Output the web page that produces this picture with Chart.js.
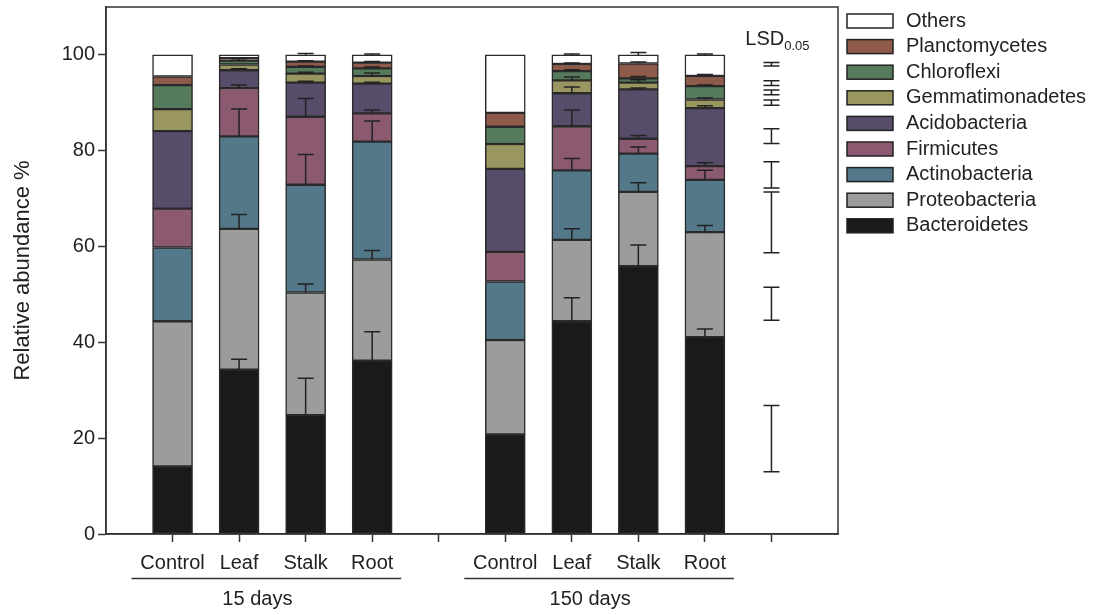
<!DOCTYPE html>
<html>
<head>
<meta charset="utf-8">
<script src="https://cdn.jsdelivr.net/npm/chart.js@4/dist/chart.umd.min.js"></script>
<style>
  html, body { margin: 0; padding: 0; background: #fff; }
  #wrap { width: 1098px; height: 615px; }
</style>
</head>
<body>
<div id="wrap"><canvas id="chart"></canvas></div>
<script>
// x slots: 0 and 11 are the frame edges, 5 is the gap, 10 holds the LSD bars
const labels = ['', 'Control', 'Leaf', 'Stalk', 'Root', '', 'Control', 'Leaf', 'Stalk', 'Root', '', ''];
const slots = [1, 2, 3, 4, 6, 7, 8, 9];
const lsdSlot = 10;
const groups = ['15 days', '150 days'];

// relative abundance (%) per treatment, bottom to top
const bacteroidetes = [14.1, 34.3, 24.8, 36.2, 20.8, 44.4, 55.9, 41.1];
const proteobacteria = [30.3, 29.4, 25.6, 21.1, 19.7, 17.0, 15.5, 21.9];
const actinobacteria = [15.4, 19.3, 22.5, 24.6, 12.2, 14.5, 8.0, 10.9];
const firmicutes = [8.1, 10.1, 14.2, 5.9, 6.2, 9.2, 3.1, 2.9];
const acidobacteria = [16.2, 3.7, 7.1, 6.2, 17.3, 6.9, 10.3, 12.1];
const gemmatimonadetes = [4.6, 1.2, 1.9, 1.6, 5.2, 2.7, 1.4, 1.8];
const chloroflexi = [5.0, 0.8, 1.4, 1.6, 3.6, 1.9, 0.9, 2.8];
const planctomycetes = [1.8, 0.5, 1.1, 1.2, 2.9, 1.5, 3.1, 2.1];
const others = [4.5, 0.7, 1.4, 1.6, 12.1, 1.9, 1.8, 4.4];

// one-sided error bars (drawn upward from each segment top)
const errBacteroidetes = [0, 2.2, 7.7, 6.0, 0, 4.9, 4.4, 1.7];
const errProteobacteria = [0, 3.0, 1.8, 1.9, 0, 2.3, 1.9, 1.4];
const errActinobacteria = [0, 5.7, 6.3, 4.3, 0, 2.5, 1.4, 2.0];
const errFirmicutes = [0, 0.6, 3.8, 0.7, 0, 3.4, 0.7, 0.7];
const errAcidobacteria = [0, 0.3, 0.3, 0.3, 0, 1.3, 0.3, 0.5];
const errGemmatimonadetes = [0, 0, 0.3, 0.6, 0, 0.7, 0.6, 0.3];
const errChloroflexi = [0, 0.4, 0.2, 0.3, 0, 0.3, 0.4, 0.2];
const errPlanctomycetes = [0, 0, 0.2, 0.2, 0, 0.2, 0.3, 0.3];
const errOthers = [0, 0, 0.3, 0.2, 0, 0.2, 0.5, 0.2];

// LSD 0.05 ranges
const lsdLow = [13.0, 44.6, 58.7, 72.2, 81.5, 89.5, 91.7, 93.6, 97.7];
const lsdHigh = [26.8, 51.5, 71.4, 77.7, 84.6, 90.6, 92.7, 94.6, 98.4];

const yTicks = [0, 20, 40, 60, 80, 100];

const FONT = '"Liberation Sans", Arial, sans-serif';
const INK = '#222';

const series = [
  { label: 'Bacteroidetes', values: bacteroidetes, err: errBacteroidetes, color: '#1a1a1a' },
  { label: 'Proteobacteria', values: proteobacteria, err: errProteobacteria, color: '#9b9c9c' },
  { label: 'Actinobacteria', values: actinobacteria, err: errActinobacteria, color: '#52788a' },
  { label: 'Firmicutes', values: firmicutes, err: errFirmicutes, color: '#8c5a70' },
  { label: 'Acidobacteria', values: acidobacteria, err: errAcidobacteria, color: '#584c6b' },
  { label: 'Gemmatimonadetes', values: gemmatimonadetes, err: errGemmatimonadetes, color: '#9a9660' },
  { label: 'Chloroflexi', values: chloroflexi, err: errChloroflexi, color: '#567a5c' },
  { label: 'Planctomycetes', values: planctomycetes, err: errPlanctomycetes, color: '#8e5a4a' },
  { label: 'Others', values: others, err: errOthers, color: '#ffffff' }
];

const toSlots = (vals) => {
  const out = labels.map(() => null);
  slots.forEach((s, i) => { out[s] = vals[i]; });
  return out;
};

const extras = {
  id: 'extras',
  afterDatasetsDraw(chart) {
    const { ctx, chartArea: a, scales: { x, y } } = chart;
    ctx.save();

    // error bars
    ctx.strokeStyle = INK;
    ctx.lineWidth = 1.5;
    slots.forEach((s, k) => {
      let cum = 0;
      const px = x.getPixelForValue(s);
      series.forEach((d) => {
        cum += d.values[k];
        const e = d.err[k];
        if (!e) return;
        const yTop = y.getPixelForValue(cum + e);
        ctx.beginPath();
        ctx.moveTo(px, y.getPixelForValue(cum));
        ctx.lineTo(px, yTop);
        ctx.moveTo(px - 8, yTop);
        ctx.lineTo(px + 8, yTop);
        ctx.stroke();
      });
    });

    // LSD bars
    const lx = x.getPixelForValue(lsdSlot);
    lsdLow.forEach((lo, i) => {
      const y1 = y.getPixelForValue(lo), y2 = y.getPixelForValue(lsdHigh[i]);
      ctx.beginPath();
      ctx.moveTo(lx, y1); ctx.lineTo(lx, y2);
      ctx.moveTo(lx - 8, y1); ctx.lineTo(lx + 8, y1);
      ctx.moveTo(lx - 8, y2); ctx.lineTo(lx + 8, y2);
      ctx.stroke();
    });
    ctx.fillStyle = INK;
    ctx.textBaseline = 'alphabetic';
    ctx.textAlign = 'left';
    ctx.font = '20px ' + FONT;
    const w1 = ctx.measureText('LSD').width;
    ctx.font = '13px ' + FONT;
    const w2 = ctx.measureText('0.05').width;
    const sx = lx + 6 - (w1 + w2) / 2;
    ctx.font = '20px ' + FONT;
    ctx.fillText('LSD', sx, 45);
    ctx.font = '13px ' + FONT;
    ctx.fillText('0.05', sx + w1, 50);

    // frame
    ctx.strokeStyle = '#333';
    ctx.lineWidth = 1.5;
    ctx.strokeRect(a.left, a.top, a.right - a.left, a.bottom - a.top);

    // group underlines and labels
    const spans = [[1, 4], [6, 9]];
    ctx.font = '20px ' + FONT;
    ctx.textAlign = 'center';
    ctx.textBaseline = 'middle';
    spans.forEach(([i0, i1], g) => {
      const xa = x.getPixelForValue(i0) - 41, xb = x.getPixelForValue(i1) + 29;
      ctx.beginPath();
      ctx.moveTo(xa, 578.5); ctx.lineTo(xb, 578.5);
      ctx.stroke();
      ctx.fillText(groups[g], (xa + xb) / 2 - 9, 599);
    });

    // legend, top entry = top of stack
    const lgX = 847, lgY = 14, rowH = 25.6;
    ctx.textAlign = 'left';
    [...series].reverse().forEach((d, i) => {
      const cy = lgY + 7 + i * rowH;
      ctx.fillStyle = d.color;
      ctx.fillRect(lgX, cy - 7, 46, 14);
      ctx.strokeStyle = INK;
      ctx.lineWidth = 1.5;
      ctx.strokeRect(lgX, cy - 7, 46, 14);
      ctx.fillStyle = INK;
      ctx.fillText(d.label, 906, cy);
    });

    ctx.restore();
  }
};

const noPad = (s) => { s.paddingTop = 0; s.paddingBottom = 0; s.paddingLeft = 0; s.paddingRight = 0; };

new Chart(document.getElementById('chart'), {
  type: 'bar',
  data: {
    labels: labels,
    datasets: series.map((d) => ({
      label: d.label,
      data: toSlots(d.values),
      backgroundColor: d.color,
      borderColor: '#2a2a2a',
      borderWidth: 1.5,
      borderSkipped: false,
      barThickness: 40
    }))
  },
  options: {
    responsive: true,
    maintainAspectRatio: false,
    animation: false,
    events: [],
    layout: { padding: { left: 0, top: 7, right: 260, bottom: 0 } },
    plugins: { legend: { display: false }, tooltip: { enabled: false } },
    scales: {
      x: {
        stacked: true,
        offset: false,
        afterFit: (s) => { s.height = 81; noPad(s); },
        grid: {
          offset: false,
          drawOnChartArea: false,
          tickLength: 8,
          tickWidth: 1.5,
          tickColor: (c) => (c.index === 0 || c.index === labels.length - 1 ? 'rgba(0,0,0,0)' : '#333')
        },
        border: { color: '#333', width: 1.5 },
        ticks: { color: INK, font: { family: FONT, size: 20 }, padding: 9, autoSkip: false, maxRotation: 0 }
      },
      y: {
        stacked: true,
        min: 0,
        max: 110,
        afterFit: (s) => { s.width = 106; noPad(s); },
        afterBuildTicks: (s) => { s.ticks = yTicks.map((v) => ({ value: v })); },
        grid: { drawOnChartArea: false, tickLength: 8, tickWidth: 1.5, tickColor: '#333' },
        border: { color: '#333', width: 1.5 },
        ticks: { color: INK, font: { family: FONT, size: 20 }, padding: 3 },
        title: {
          display: true,
          text: 'Relative abundance %',
          color: INK,
          font: { family: FONT, size: 22 },
          padding: { top: 10, bottom: 4 }
        }
      }
    }
  },
  plugins: [extras]
});
</script>
</body>
</html>
